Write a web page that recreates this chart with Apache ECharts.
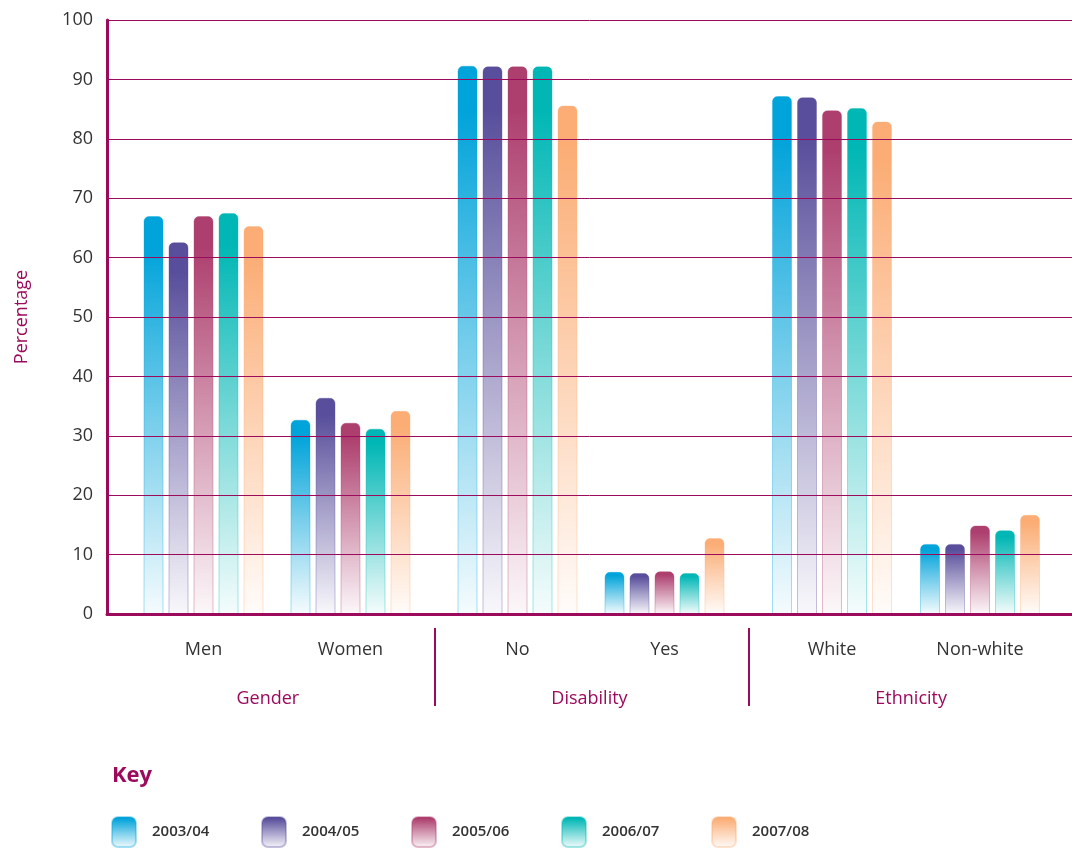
<!DOCTYPE html>
<html><head><meta charset="utf-8">
<script src="https://cdn.jsdelivr.net/npm/echarts@6/dist/echarts.min.js"></script>
<style>html,body{margin:0;padding:0;background:#fff}#c{width:1072px;height:848px}</style>
</head><body><div id="c"></div>
<script>
const years = ['2003/04','2004/05','2005/06','2006/07','2007/08'];
const groups = ['Gender','Disability','Ethnicity'];
const genderCats = ['Men','Women'];
const disabilityCats = ['No','Yes'];
const ethnicityCats = ['White','Non-white'];
const yTicks = [0,10,20,30,40,50,60,70,80,90,100];
// values per year: [first, second] category of each group
const gender = {
  '2003/04': [67.0, 32.7], '2004/05': [62.6, 36.4], '2005/06': [67.0, 32.2],
  '2006/07': [67.5, 31.2], '2007/08': [65.3, 34.2]
};
const disability = {
  '2003/04': [92.3, 7.1], '2004/05': [92.2, 6.9], '2005/06': [92.2, 7.2],
  '2006/07': [92.2, 6.9], '2007/08': [85.6, 12.8]
};
const ethnicity = {
  '2003/04': [87.2, 11.8], '2004/05': [87.0, 11.8], '2005/06': [84.8, 14.9],
  '2006/07': [85.2, 14.1], '2007/08': [82.9, 16.7]
};
const colors = [[0,163,218],[88,78,155],[173,63,110],[0,183,181],[251,173,117]];
const MAG = '#9c0a5c';
const FONT = '"Open Sans", "Noto Sans", sans-serif';

function grad(c){
  const r = (a)=>`rgba(${c[0]},${c[1]},${c[2]},${a})`;
  return {type:'linear',x:0,y:0,x2:0,y2:1,colorStops:[
    {offset:0,color:r(1)},{offset:0.08,color:r(1)},{offset:0.5,color:r(0.55)},{offset:1,color:r(0.04)}]};
}

const gTop = 20, gBottom = 234;
const subGrids = [
  {left:130, width:294, cats:genderCats, data:gender},
  {left:444, width:294, cats:disabilityCats, data:disability},
  {left:758, width:296, cats:ethnicityCats, data:ethnicity}
];

const grid = [{left:107, right:0, top:gTop, bottom:gBottom}];
const xAxis = [{
  gridIndex:0, type:'category', data:groups, z:6,
  axisLine:{show:true, lineStyle:{color:MAG, width:3}},
  axisTick:{show:false},
  axisLabel:{color:MAG, fontSize:18, fontFamily:FONT, margin:76}
}];
const yAxis = [{
  gridIndex:0, type:'value', min:yTicks[0], max:yTicks[yTicks.length-1], interval:10, z:5,
  name:'Percentage', nameLocation:'middle', nameRotate:90, nameGap:76,
  nameTextStyle:{color:MAG, fontSize:18, fontFamily:FONT},
  axisLine:{show:true, lineStyle:{color:MAG, width:3}},
  axisTick:{show:false},
  axisLabel:{color:'#333', fontSize:18, fontFamily:FONT, margin:14},
  splitLine:{show:true, lineStyle:{color:MAG, width:1}}
}];
const series = [];
subGrids.forEach((g,i)=>{
  grid.push({left:g.left, width:g.width, top:gTop, bottom:gBottom});
  xAxis.push({gridIndex:i+1, type:'category', data:g.cats,
    axisLine:{show:false}, axisTick:{show:false},
    axisLabel:{color:'#333', fontSize:18, fontFamily:FONT, margin:27}});
  yAxis.push({gridIndex:i+1, type:'value', min:0, max:100, interval:10, show:false, splitLine:{show:false}});
  years.forEach((y,k)=>{
    series.push({
      name:y, type:'bar', xAxisIndex:i+1, yAxisIndex:i+1,
      data:g.data[y], barWidth:20, barGap:'25%', z:2,
      itemStyle:{color:grad(colors[k]), borderRadius:[5,5,0,0],
        borderColor:`rgba(${colors[k].join(',')},0.35)`, borderWidth:1}
    });
  });
});

const legend = years.map((y,k)=>({
  data:[y], left:111+150*k, top:816, padding:0, itemWidth:24, itemHeight:30, icon:'roundRect',
  textStyle:{color:'#333', fontSize:15, fontWeight:600, fontFamily:FONT, padding:[0,0,0,11]}
}));

const chart = echarts.init(document.getElementById('c'), null, {renderer:'canvas'});
chart.setOption({
  animation:false,
  title:{text:'Key', left:107, top:760, textStyle:{color:MAG, fontSize:22, fontWeight:'bold', fontFamily:FONT}},
  grid, xAxis, yAxis, series, legend,
  graphic:[
    {type:'line', shape:{x1:435, y1:628, x2:435, y2:706}, style:{stroke:MAG, lineWidth:2}},
    {type:'line', shape:{x1:749, y1:628, x2:749, y2:706}, style:{stroke:MAG, lineWidth:2}}
  ]
});
</script></body></html>
